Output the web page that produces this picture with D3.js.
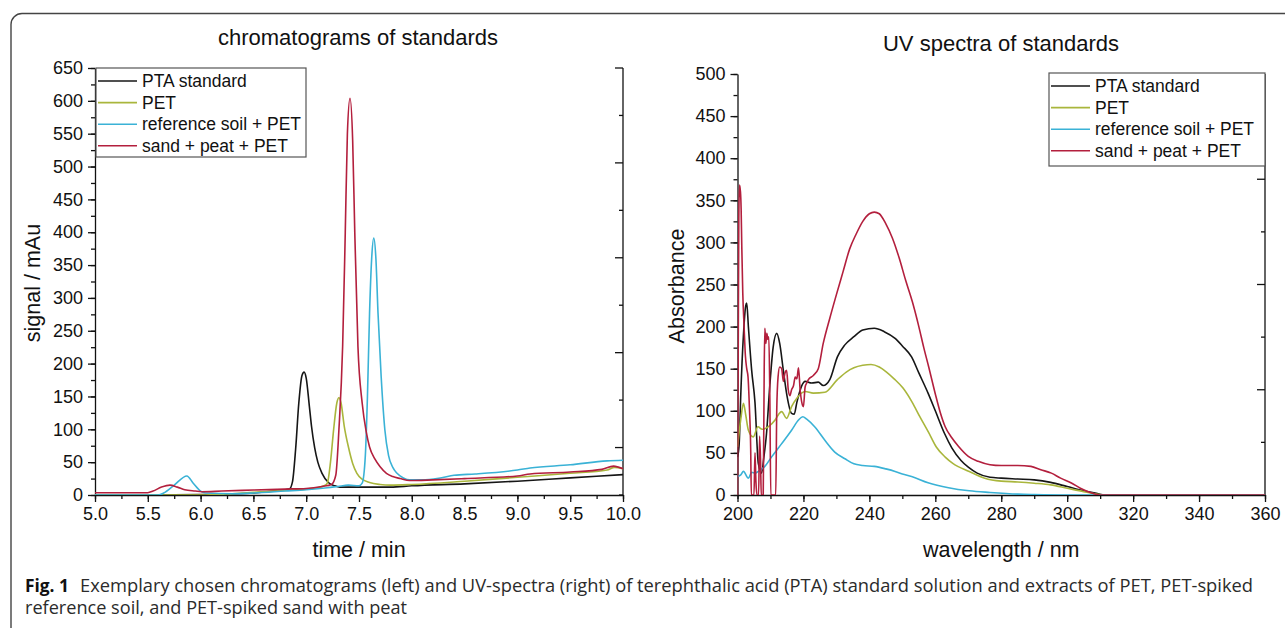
<!DOCTYPE html>
<html>
<head>
<meta charset="utf-8">
<script src="https://cdn.jsdelivr.net/npm/d3@7"></script>
<style>
  body { margin: 0; background: #fff; }
  svg { display: block; }
  text { font-family: "Liberation Sans", Arial, sans-serif; fill: #111; }
  .axis path, .axis line { stroke: #111; stroke-width: 1.3; }
  .axis text { font-size: 18px; font-family: "Liberation Sans", Arial, sans-serif; fill: #111; }
</style>
</head>
<body>
<div id="fig"></div>
<script>
// series names / colours
const seriesNames = ["PTA standard", "PET", "reference soil + PET", "sand + peat + PET"];
const seriesColors = ["#161616", "#a9b63c", "#3ab2d6", "#b31f3d"];

// chromatograms: [time (min), signal (mAu)]
const chromPTA = [[5.0,0],[5.5,0],[6.0,0.5],[6.3,1.5],[6.5,3],[6.7,6],[6.8,8],[6.84,9],[6.87,20],[6.9,70],[6.93,140],[6.96,182],[6.98,187],[7.0,178],[7.03,135],[7.05,105],[7.08,72],[7.11,50],[7.15,33],[7.21,19],[7.27,14],[7.32,12],[7.5,12],[7.8,12],[8.0,14],[8.5,17],[9.0,21],[9.5,26],[10.0,31]];
const chromPET = [[5.0,0],[6.0,0],[6.3,2],[6.5,4],[6.8,7],[7.0,9],[7.1,11],[7.17,14],[7.2,18],[7.23,50],[7.26,100],[7.29,140],[7.31,148],[7.33,140],[7.36,105],[7.40,73],[7.44,48],[7.48,33],[7.53,24],[7.6,19],[7.7,16],[7.8,15],[8.0,16],[8.5,21],[9.0,27],[9.5,33],[9.85,38],[9.92,42],[10.0,40]];
const chromSoil = [[5.0,0],[5.6,0],[5.65,3],[5.75,15],[5.87,29],[5.93,18],[6.0,6],[6.05,3],[6.3,2],[6.5,3],[6.8,6],[7.0,8],[7.2,11],[7.3,13],[7.4,15],[7.5,14],[7.53,18],[7.56,60],[7.58,150],[7.6,277],[7.62,360],[7.64,391],[7.66,360],[7.68,277],[7.71,180],[7.745,99],[7.78,60],[7.82,42],[7.86,33],[7.92,26],[7.98,23],[8.1,23],[8.27,26],[8.4,30],[8.6,32],[9.0,38],[9.12,41],[9.5,46],[9.85,52],[10.0,53]];
const chromSand = [[5.0,3.5],[5.5,3.5],[5.55,6],[5.63,12],[5.71,15],[5.78,12],[5.85,8],[5.95,6],[6.01,5],[6.2,6],[6.5,7.5],[6.8,9],[7.0,10],[7.15,13],[7.24,16],[7.28,30],[7.31,100],[7.345,226],[7.37,400],[7.39,550],[7.415,604],[7.44,540],[7.46,400],[7.49,226],[7.53,140],[7.57,95],[7.60,73],[7.65,55],[7.7,43],[7.76,33],[7.82,28],[7.89,25],[7.98,22],[8.2,23],[8.5,25],[9.0,29],[9.12,32],[9.5,35],[9.8,39],[9.91,44],[10.0,40]];

// UV spectra: [wavelength (nm), absorbance]
const uvPTA = [[200,45],[200.5,60],[201,120],[201.8,190],[202.5,225],[202.8,228],[203.3,200],[204.3,148],[205.3,110],[206.3,38],[207.3,26],[208,45],[208.8,73],[209.8,130],[210.8,175],[211.9,192],[212.8,180],[213.9,148],[215,118],[216.4,97],[217.2,96],[218,110],[219.5,130],[220.5,135],[222.5,133],[224.5,134],[226,130],[228,137],[230.3,164],[232.5,178],[235.3,188],[238,196],[241.5,198],[244.5,194],[247.8,186],[250,177],[252.8,164],[255,145],[257.8,121],[260,100],[262.8,73],[265,56],[267.8,41],[270,33],[272.7,26],[276.6,21],[280,20],[285,19],[290,18],[295,15],[300,10],[305,5],[310,1],[311,0],[360,0]];
const uvPET = [[200,57],[201,90],[201.8,109],[202.5,95],[203.3,77],[204.8,69],[206.2,81],[207.5,78],[209.3,81],[211.4,89],[212.5,96],[213.4,99],[214.9,91],[216.4,105],[218,115],[220.5,123],[223,121],[226.5,122],[230.3,137],[233,146],[235.3,151],[238,154],[240.5,155],[243,152],[245.2,146],[247.5,138],[250.2,127],[253,110],[255.3,93],[258,74],[260.3,57],[263,45],[265.3,37.6],[270.3,28],[275,20],[280,16.5],[285,15.5],[290,14],[295,12],[300,8],[305,4],[310,0.5],[311,0],[360,0]];
const uvSoil = [[200,22],[201,24],[201.8,28],[203.3,20],[204.3,27],[205.3,26],[206.3,28],[208.3,34],[210.3,45],[213.4,61],[216.4,77],[218.5,89],[219.8,93],[221,90],[223.4,81],[226.5,65],[229.5,51],[232.6,43],[235.3,37],[238,35],[241.5,34],[245,31],[247.8,28],[250,25],[252.8,22],[257.8,14.6],[264,8.7],[270.3,5],[276.6,3],[285,1],[290,0.5],[300,0],[360,0]];
const uvSand = [[200,0],[200.2,150],[200.4,330],[200.6,368],[200.9,360],[201.1,340],[201.3,295],[201.6,240],[202,200],[202.4,165],[202.8,150],[203.2,140],[203.6,105],[204,55],[204.2,0],[205,0],[205.3,50],[205.6,15],[205.9,0],[206.4,0],[206.7,70],[207,40],[207.2,0],[207.8,0],[208.1,150],[208.3,198],[208.6,180],[208.9,192],[209.2,185],[209.5,188],[209.8,120],[210.1,0],[211.6,0],[211.9,100],[212.3,140],[212.8,152],[213.4,150],[213.9,135],[214.4,145],[214.9,148],[215.4,125],[215.9,118],[216.4,125],[217,130],[217.5,140],[218,138],[218.5,151],[219,125],[219.5,110],[220,105],[220.5,128],[221,133],[221.5,137],[223,142],[224.5,150],[226,180],[228,210],[230,238],[232,265],[234,292],[236,310],[238,325],[240,334],[241.5,336],[243,334],[245,322],[247,305],[249,282],[251,255],[253,230],[255,200],[256.5,175],[258,152],[260,120],[261.5,98],[263,81],[265,68],[267,58],[270,46],[273,40],[276.6,36],[280,35],[285,35],[289,34],[292,30],[295.2,26],[298,20],[301.4,14],[304,8],[307.7,2],[310,0],[312,0],[360,0]];

// ticks
const chromXTicks = d3.range(5, 10.001, 0.5);
const chromYTicks = d3.range(0, 651, 50);
const uvXTicks = d3.range(200, 361, 20);
const uvYTicks = d3.range(0, 501, 50);

const width = 1285, height = 628;
const svg = d3.select("#fig").append("svg")
  .attr("width", width)
  .attr("height", height);

// frame round the figure (runs off the right and bottom edges)
svg.append("rect")
  .attr("x", 11).attr("y", 13.5)
  .attr("width", 1320).attr("height", 640)
  .attr("rx", 11)
  .attr("fill", "none")
  .attr("stroke", "#444")
  .attr("stroke-width", 1.4);

function panel(opt) {
  const g = svg.append("g");
  const x = d3.scaleLinear().domain(opt.xDomain).range([opt.left, opt.right]);
  const y = d3.scaleLinear().domain(opt.yDomain).range([opt.bottom, opt.top]);

  const clipId = "clip" + opt.id;
  svg.append("clipPath").attr("id", clipId)
    .append("rect")
    .attr("x", opt.left).attr("y", opt.top - 2)
    .attr("width", opt.right - opt.left).attr("height", opt.bottom - opt.top + 2);

  // minor ticks
  g.append("g").attr("class", "axis")
    .attr("transform", `translate(0,${opt.bottom})`)
    .call(d3.axisBottom(x).tickValues(opt.xMinor).tickFormat("").tickSize(4).tickSizeOuter(0))
    .select(".domain").remove();
  g.append("g").attr("class", "axis")
    .attr("transform", `translate(${opt.left},0)`)
    .call(d3.axisLeft(y).tickValues(opt.yMinor).tickFormat("").tickSize(4).tickSizeOuter(0))
    .select(".domain").remove();

  // major axes
  g.append("g").attr("class", "axis")
    .attr("transform", `translate(0,${opt.bottom})`)
    .call(d3.axisBottom(x).tickValues(opt.xTicks).tickFormat(opt.xFormat).tickSize(7).tickSizeOuter(0).tickPadding(5));
  g.append("g").attr("class", "axis")
    .attr("transform", `translate(${opt.left},0)`)
    .call(d3.axisLeft(y).tickValues(opt.yTicks).tickSize(7).tickSizeOuter(0).tickPadding(5));

  // right axis with unlabeled inward ticks
  const r = d3.scaleLinear().domain([0, opt.rightDiv]).range([opt.top, opt.bottom]);
  g.append("line")
    .attr("x1", opt.right).attr("x2", opt.right)
    .attr("y1", opt.top).attr("y2", opt.bottom)
    .attr("stroke", "#111").attr("stroke-width", 1.3);
  g.selectAll(".rtick").data(d3.range(0, opt.rightDiv + 1))
    .join("line")
    .attr("x1", opt.right)
    .attr("x2", d => opt.right - (d % 2 === 0 ? 8 : 4))
    .attr("y1", d => r(d)).attr("y2", d => r(d))
    .attr("stroke", "#111").attr("stroke-width", 1.3);

  // lines
  const line = d3.line()
    .x(d => x(d[0]))
    .y(d => y(d[1]))
    .curve(d3.curveMonotoneX);
  g.append("g").attr("clip-path", `url(#${clipId})`)
    .selectAll("path").data(opt.series)
    .join("path")
    .attr("d", d => line(d))
    .attr("fill", "none")
    .attr("stroke", (d, i) => seriesColors[i])
    .attr("stroke-width", 1.6)
    .attr("stroke-linejoin", "round");

  // title and labels
  g.append("text")
    .attr("x", opt.titleX).attr("y", opt.top - 23)
    .attr("text-anchor", "middle")
    .style("font-size", "22px")
    .text(opt.title);
  g.append("text")
    .attr("x", (opt.left + opt.right) / 2).attr("y", opt.bottom + 62)
    .attr("text-anchor", "middle")
    .style("font-size", "21.5px")
    .text(opt.xLabel);
  g.append("text")
    .attr("transform", `translate(${opt.yLabelX},${opt.yLabelY}) rotate(-90)`)
    .attr("text-anchor", "middle")
    .style("font-size", "21.5px")
    .text(opt.yLabel);

  // legend
  const lg = g.append("g").attr("transform", `translate(${opt.legend.x},${opt.legend.y})`);
  lg.append("rect")
    .attr("width", opt.legend.w).attr("height", opt.legend.h)
    .attr("fill", "#fff").attr("stroke", "#555").attr("stroke-width", 1.2);
  seriesNames.forEach((name, i) => {
    const yy = 13 + i * 21.6;
    lg.append("line")
      .attr("x1", 2).attr("x2", 41)
      .attr("y1", yy).attr("y2", yy)
      .attr("stroke", seriesColors[i]).attr("stroke-width", 1.6);
    lg.append("text")
      .attr("x", 46).attr("y", yy + 6)
      .style("font-size", "17.5px")
      .text(name);
  });
}

panel({
  id: "chrom",
  xDomain: [5, 10], yDomain: [0, 650],
  left: 95, right: 623, top: 68, bottom: 495,
  xTicks: chromXTicks, xMinor: d3.range(5, 10.001, 0.25), xFormat: d3.format(".1f"),
  yTicks: chromYTicks, yMinor: d3.range(0, 651, 25),
  rightDiv: 9,
  series: [chromPTA, chromPET, chromSoil, chromSand],
  title: "chromatograms of standards", titleX: 358,
  xLabel: "time / min",
  yLabel: "signal / mAu", yLabelX: 40, yLabelY: 283,
  legend: { x: 96, y: 68, w: 210, h: 89 }
});

panel({
  id: "uv",
  xDomain: [200, 360], yDomain: [0, 500],
  left: 737.5, right: 1265, top: 74, bottom: 495,
  xTicks: uvXTicks, xMinor: d3.range(200, 361, 10), xFormat: d3.format("d"),
  yTicks: uvYTicks, yMinor: d3.range(0, 501, 25),
  rightDiv: 8,
  series: [uvPTA, uvPET, uvSoil, uvSand],
  title: "UV spectra of standards", titleX: 1001,
  xLabel: "wavelength / nm",
  yLabel: "Absorbance", yLabelX: 684, yLabelY: 286,
  legend: { x: 1049, y: 73, w: 216, h: 93 }
});

// caption
const cap = svg.append("g");
cap.append("text")
  .attr("x", 25).attr("y", 592)
  .style("font-family", "'Open Sans', sans-serif")
  .style("font-size", "18.5px").style("font-weight", "bold")
  .attr("textLength", 44).attr("lengthAdjust", "spacingAndGlyphs")
  .text("Fig. 1");
cap.append("text")
  .attr("x", 80).attr("y", 592)
  .style("font-family", "'Open Sans', sans-serif")
  .style("font-size", "18px").style("fill", "#2b2b2b")
  .attr("textLength", 1173).attr("lengthAdjust", "spacingAndGlyphs")
  .text("Exemplary chosen chromatograms (left) and UV-spectra (right) of terephthalic acid (PTA) standard solution and extracts of PET, PET-spiked");
cap.append("text")
  .attr("x", 25).attr("y", 614)
  .style("font-family", "'Open Sans', sans-serif")
  .style("font-size", "18px").style("fill", "#2b2b2b")
  .attr("textLength", 382).attr("lengthAdjust", "spacingAndGlyphs")
  .text("reference soil, and PET-spiked sand with peat");
</script>
</body>
</html>
